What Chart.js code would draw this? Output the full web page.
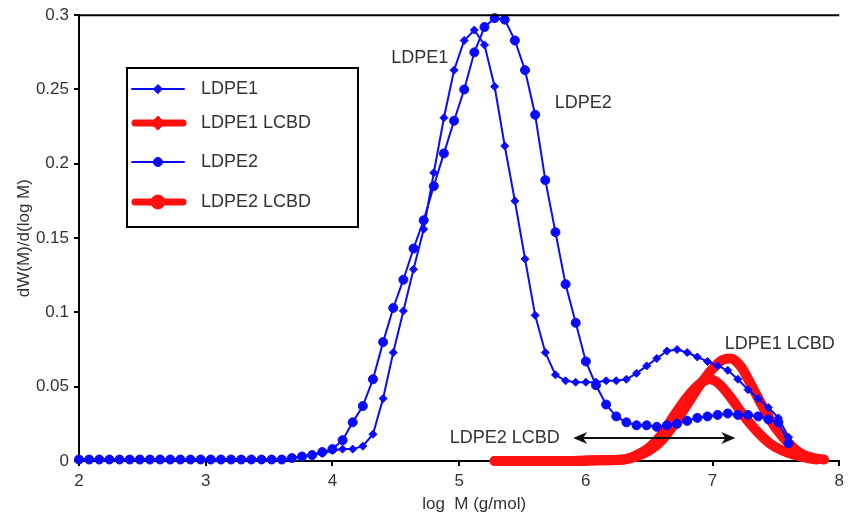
<!DOCTYPE html>
<html>
<head>
<meta charset="utf-8">
<script src="https://cdn.jsdelivr.net/npm/chart.js@4.4.1/dist/chart.umd.min.js"></script>
<style>
body { margin: 0; background: #fff; }
canvas { display: block; }
</style>
</head>
<body>
<canvas id="gpcChart" width="849" height="516"></canvas>
<script>
// log M grid of the two GPC traces
var logM = [2.00, 2.08, 2.16, 2.24, 2.32, 2.40, 2.48, 2.56, 2.64, 2.72,
    2.80, 2.88, 2.96, 3.04, 3.12, 3.20, 3.28, 3.36, 3.44, 3.52,
    3.60, 3.68, 3.76, 3.84, 3.92, 4.00, 4.08, 4.16, 4.24, 4.32,
    4.40, 4.48, 4.56, 4.64, 4.72, 4.80, 4.88, 4.96, 5.04, 5.12,
    5.20, 5.28, 5.36, 5.44, 5.52, 5.60, 5.68, 5.76, 5.84, 5.92,
    6.00, 6.08, 6.16, 6.24, 6.32, 6.40, 6.48, 6.56, 6.64, 6.72,
    6.80, 6.88, 6.96, 7.04, 7.12, 7.20, 7.28, 7.36, 7.44, 7.52, 7.60];

var ldpe1 = [0.001, 0.001, 0.001, 0.001, 0.001, 0.001, 0.001, 0.001, 0.001, 0.001,
    0.001, 0.001, 0.001, 0.001, 0.001, 0.001, 0.001, 0.001, 0.001, 0.001,
    0.001, 0.002, 0.003, 0.004, 0.005, 0.007, 0.008, 0.008, 0.010, 0.018,
    0.042, 0.073, 0.101, 0.129, 0.156, 0.194, 0.231, 0.263, 0.283, 0.290,
    0.280, 0.252, 0.212, 0.175, 0.136, 0.098, 0.073, 0.058, 0.054, 0.053,
    0.053, 0.053, 0.054, 0.054, 0.055, 0.059, 0.064, 0.069, 0.074, 0.075,
    0.073, 0.070, 0.067, 0.064, 0.061, 0.055, 0.048, 0.042, 0.036, 0.029, 0.016];

var ldpe2 = [0.001, 0.001, 0.001, 0.001, 0.001, 0.001, 0.001, 0.001, 0.001, 0.001,
    0.001, 0.001, 0.001, 0.001, 0.001, 0.001, 0.001, 0.001, 0.001, 0.001,
    0.001, 0.002, 0.003, 0.004, 0.006, 0.008, 0.014, 0.026, 0.037, 0.055,
    0.080, 0.103, 0.122, 0.143, 0.162, 0.185, 0.207, 0.229, 0.250, 0.275,
    0.292, 0.298, 0.297, 0.283, 0.263, 0.233, 0.189, 0.154, 0.119, 0.093,
    0.067, 0.051, 0.038, 0.030, 0.026, 0.024, 0.024, 0.023, 0.024, 0.025,
    0.027, 0.029, 0.030, 0.031, 0.032, 0.031, 0.031, 0.030, 0.028, 0.026, 0.012];

// LCBD traces
var lcbd1LogM = [5.28, 5.60, 5.90, 6.10, 6.30, 6.40, 6.50, 6.60, 6.70, 6.80, 6.90,
    7.00, 7.08, 7.14, 7.22, 7.30, 7.40, 7.50, 7.60, 7.70, 7.80, 7.88];
var ldpe1Lcbd = [0, 0, 0, 0.0005, 0.001, 0.003, 0.007, 0.014, 0.025, 0.038, 0.051,
    0.062, 0.068, 0.069, 0.064, 0.052, 0.036, 0.022, 0.012, 0.005, 0.002, 0.001];

var lcbd2LogM = [5.28, 5.60, 5.90, 6.10, 6.30, 6.40, 6.50, 6.60, 6.70, 6.80, 6.90,
    6.98, 7.05, 7.15, 7.25, 7.35, 7.45, 7.55, 7.65, 7.75, 7.82];
var ldpe2Lcbd = [0, 0, 0, 0.0005, 0.001, 0.004, 0.009, 0.018, 0.031, 0.043, 0.052,
    0.055, 0.052, 0.042, 0.030, 0.020, 0.012, 0.007, 0.004, 0.002, 0.001];

var xTicks = [2, 3, 4, 5, 6, 7, 8];
var yTicks = [0, 0.05, 0.1, 0.15, 0.2, 0.25, 0.3];
var yTickLabels = ['0', '0.05', '0.1', '0.15', '0.2', '0.25', '0.3'];

// text placed on the plot, in data units
var notes = [
    {text: 'LDPE1', x: 4.69, y: 0.271},
    {text: 'LDPE2', x: 5.98, y: 0.241},
    {text: 'LDPE1 LCBD', x: 7.53, y: 0.079},
    {text: 'LDPE2 LCBD', x: 5.36, y: 0.0155}
];
var arrowFrom = 5.90, arrowTo = 7.18, arrowY = 0.0155;

var BLUE = '#0a0aff';
var RED = '#ff1010';
var FONT = '"Liberation Sans", Arial, sans-serif';

function toPoints(xs, ys) {
    var pts = [];
    for (var i = 0; i < xs.length; i++) {
        pts.push({x: xs[i], y: ys[i]});
    }
    return pts;
}

var decorPlugin = {
    id: 'decor',
    afterDraw: function(chart) {
        var ctx = chart.ctx;
        var area = chart.chartArea;
        var xs = chart.scales.x;
        var ys = chart.scales.y;
        ctx.save();

        // top frame line
        ctx.strokeStyle = '#000';
        ctx.lineWidth = 2;
        ctx.beginPath();
        ctx.moveTo(area.left, area.top);
        ctx.lineTo(area.right, area.top);
        ctx.stroke();

        // curve labels
        ctx.font = '18px ' + FONT;
        ctx.fillStyle = '#333';
        ctx.textAlign = 'center';
        ctx.textBaseline = 'middle';
        notes.forEach(function(n) {
            ctx.fillText(n.text, xs.getPixelForValue(n.x), ys.getPixelForValue(n.y));
        });

        // double arrow
        var ax1 = xs.getPixelForValue(arrowFrom);
        var ax2 = xs.getPixelForValue(arrowTo);
        var ay = ys.getPixelForValue(arrowY);
        ctx.strokeStyle = '#111';
        ctx.fillStyle = '#111';
        ctx.lineWidth = 2;
        ctx.beginPath();
        ctx.moveTo(ax1 + 6, ay);
        ctx.lineTo(ax2 - 6, ay);
        ctx.stroke();
        ctx.beginPath();
        ctx.moveTo(ax1, ay);
        ctx.lineTo(ax1 + 14, ay - 6);
        ctx.lineTo(ax1 + 10, ay);
        ctx.lineTo(ax1 + 14, ay + 6);
        ctx.closePath();
        ctx.fill();
        ctx.beginPath();
        ctx.moveTo(ax2, ay);
        ctx.lineTo(ax2 - 14, ay - 6);
        ctx.lineTo(ax2 - 10, ay);
        ctx.lineTo(ax2 - 14, ay + 6);
        ctx.closePath();
        ctx.fill();

        // legend box
        ctx.strokeStyle = '#000';
        ctx.lineWidth = 2;
        ctx.strokeRect(127, 68, 231, 159);
        var rows = [89, 123, 162, 202];
        chart.data.datasets.forEach(function(ds, i) {
            var y = rows[i];
            var thick = ds.borderColor === RED;
            ctx.strokeStyle = ds.borderColor;
            ctx.fillStyle = ds.borderColor;
            ctx.lineWidth = thick ? 7 : 2;
            ctx.lineCap = 'round';
            ctx.beginPath();
            ctx.moveTo(thick ? 135 : 132, y);
            ctx.lineTo(thick ? 183 : 184, y);
            ctx.stroke();
            ctx.lineWidth = 1;
            Chart.helpers.drawPoint(ctx, {
                pointStyle: ds.legendMarker,
                radius: thick ? 7 : 4.5,
                borderWidth: 1,
                rotation: 0
            }, 158, y);
            ctx.fillStyle = '#333';
            ctx.textAlign = 'left';
            ctx.textBaseline = 'middle';
            ctx.fillText(ds.label, 201, y);
        });

        // x axis title
        ctx.font = '17px ' + FONT;
        ctx.fillStyle = '#333';
        ctx.textAlign = 'center';
        ctx.textBaseline = 'middle';
        ctx.fillText('log  M (g/mol)', (area.left + area.right) / 2 + 15, 504);

        ctx.restore();
    }
};

function pageLoad() {
    var ctx = document.getElementById('gpcChart');
    var gpcChart = new Chart(ctx, {
        type: 'line',
        data: {
            datasets: [{
                label: 'LDPE1',
                data: toPoints(logM, ldpe1),
                borderColor: BLUE,
                backgroundColor: BLUE,
                borderWidth: 2,
                pointStyle: 'rectRot',
                pointRadius: 4,
                pointBorderWidth: 1,
                legendMarker: 'rectRot',
                order: 0
            }, {
                label: 'LDPE1 LCBD',
                data: toPoints(lcbd1LogM, ldpe1Lcbd),
                borderColor: RED,
                backgroundColor: RED,
                borderWidth: 10,
                pointRadius: 0,
                cubicInterpolationMode: 'monotone',
                borderCapStyle: 'round',
                borderJoinStyle: 'round',
                legendMarker: 'rectRot',
                order: 1
            }, {
                label: 'LDPE2',
                data: toPoints(logM, ldpe2),
                borderColor: BLUE,
                backgroundColor: BLUE,
                borderWidth: 2,
                pointStyle: 'circle',
                pointRadius: 4.5,
                pointBorderWidth: 1,
                legendMarker: 'circle',
                order: 0
            }, {
                label: 'LDPE2 LCBD',
                data: toPoints(lcbd2LogM, ldpe2Lcbd),
                borderColor: RED,
                backgroundColor: RED,
                borderWidth: 10,
                pointRadius: 0,
                cubicInterpolationMode: 'monotone',
                borderCapStyle: 'round',
                borderJoinStyle: 'round',
                legendMarker: 'circle',
                order: 1
            }]
        },
        options: {
            responsive: false,
            animation: false,
            clip: false,
            layout: {padding: {top: 15, right: 4, left: 0, bottom: 0}},
            plugins: {
                legend: {display: false},
                tooltip: {enabled: false}
            },
            scales: {
                x: {
                    type: 'linear',
                    min: 2,
                    max: 8,
                    afterBuildTicks: function(scale) {
                        scale.ticks = xTicks.map(function(v) { return {value: v}; });
                    },
                    afterFit: function(scale) { scale.height = 55; },
                    ticks: {
                        color: '#333',
                        font: {family: FONT, size: 17},
                        padding: 5,
                        maxRotation: 0
                    },
                    grid: {drawOnChartArea: false, tickLength: 5, color: '#000', lineWidth: 2},
                    border: {color: '#000', width: 2}
                },
                y: {
                    min: 0,
                    max: 0.3,
                    afterBuildTicks: function(scale) {
                        scale.ticks = yTicks.map(function(v) { return {value: v}; });
                    },
                    afterFit: function(scale) { scale.width = 79; },
                    ticks: {
                        color: '#333',
                        font: {family: FONT, size: 17},
                        padding: 5,
                        callback: function(value, index) { return yTickLabels[index]; }
                    },
                    title: {
                        display: true,
                        text: 'dW(M)/d(log M)',
                        color: '#333',
                        font: {family: FONT, size: 17},
                        padding: {top: 14, bottom: 0}
                    },
                    grid: {drawOnChartArea: false, tickLength: 5, color: '#000', lineWidth: 2},
                    border: {color: '#000', width: 2}
                }
            }
        },
        plugins: [decorPlugin]
    });
}

window.onload = pageLoad;
</script>
</body>
</html>
